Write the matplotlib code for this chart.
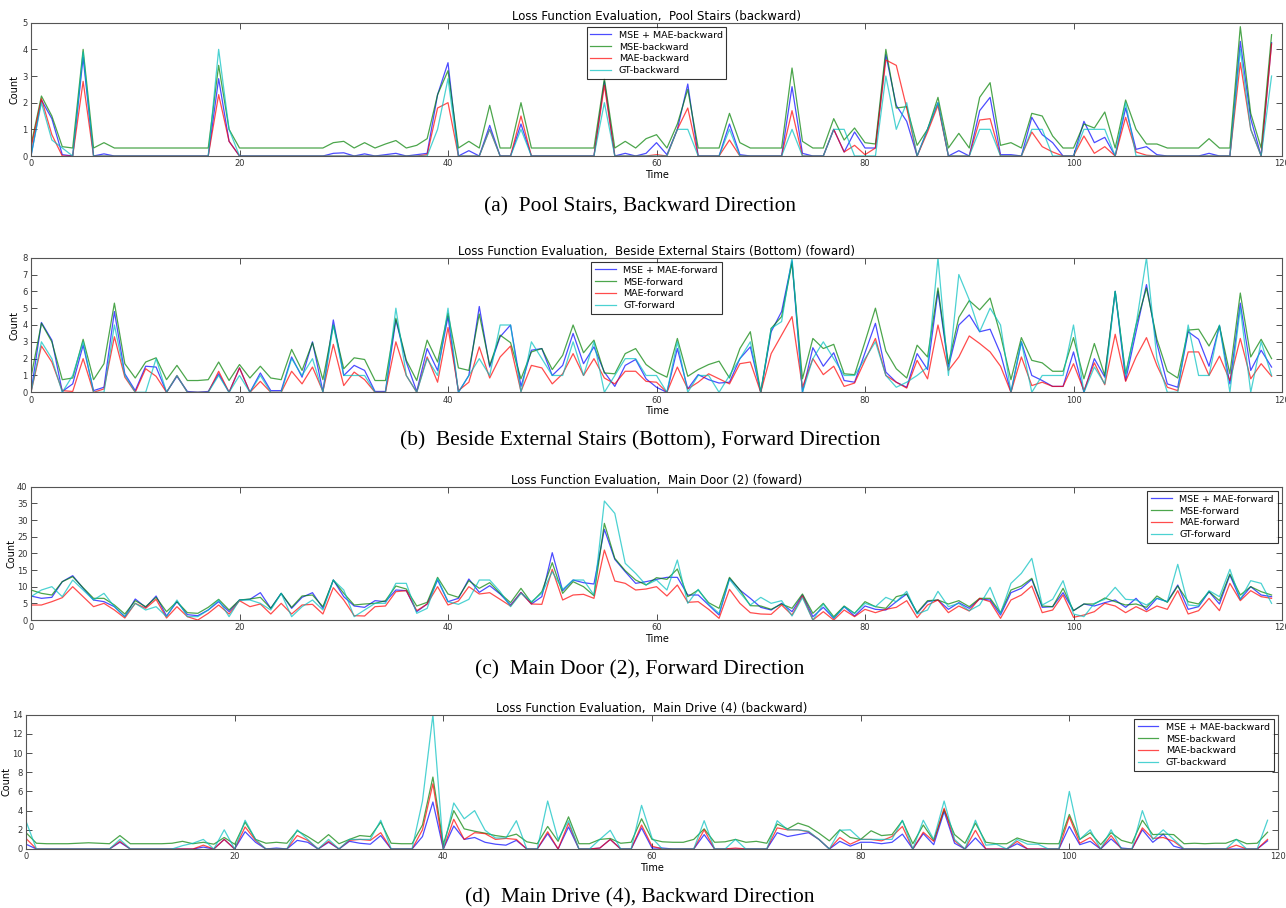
import matplotlib
matplotlib.use("Agg")
import matplotlib.pyplot as plt

# time axis shared by all four panels
time = list(range(120))

# === (a) Pool Stairs, backward ===
a_mse_mae = [0, 2.1, 1.4, 0.05, 0, 3.7, 0, 0.08, 0, 0,
             0, 0, 0, 0, 0, 0, 0, 0, 2.9, 0.55,
             0, 0, 0, 0, 0, 0, 0, 0, 0, 0.1,
             0.12, 0, 0.08, 0, 0.05, 0.1, 0, 0.05, 0.1, 2.3,
             3.5, 0, 0.2, 0, 1.15, 0, 0, 1.2, 0, 0,
             0, 0, 0, 0, 0, 2.8, 0, 0.1, 0, 0.1,
             0.5, 0.05, 1.0, 2.7, 0, 0, 0, 1.2, 0.05, 0,
             0, 0, 0, 2.6, 0.1, 0, 0, 1.0, 0.15, 0.9,
             0.3, 0.3, 3.8, 1.9, 1.3, 0, 1.0, 2.0, 0, 0.2,
             0, 1.7, 2.2, 0.05, 0.05, 0, 1.45, 0.8, 0.5, 0,
             0, 1.3, 0.5, 0.7, 0, 1.8, 0.25, 0.35, 0.05, 0,
             0, 0, 0, 0.1, 0, 0, 4.3, 1.4, 0, 4.25]
a_mse = [0.4, 2.25, 1.5, 0.35, 0.3, 4.0, 0.3, 0.5, 0.3, 0.3,
         0.3, 0.3, 0.3, 0.3, 0.3, 0.3, 0.3, 0.3, 3.4, 1.0,
         0.3, 0.3, 0.3, 0.3, 0.3, 0.3, 0.3, 0.3, 0.3, 0.5,
         0.55, 0.3, 0.5, 0.3, 0.45, 0.58, 0.3, 0.4, 0.65, 2.3,
         3.2, 0.3, 0.55, 0.3, 1.9, 0.3, 0.3, 2.0, 0.3, 0.3,
         0.3, 0.3, 0.3, 0.3, 0.3, 2.9, 0.3, 0.55, 0.3, 0.65,
         0.8, 0.3, 1.2, 2.5, 0.3, 0.3, 0.3, 1.6, 0.5, 0.3,
         0.3, 0.3, 0.3, 3.3, 0.55, 0.3, 0.3, 1.4, 0.6, 1.05,
         0.5, 0.45, 4.0, 1.8, 1.85, 0.4, 1.0, 2.2, 0.3, 0.85,
         0.3, 2.2, 2.75, 0.4, 0.5, 0.3, 1.6, 1.5, 0.75, 0.3,
         0.3, 1.2, 1.05, 1.65, 0.3, 2.1, 1.0, 0.45, 0.45, 0.3,
         0.3, 0.3, 0.3, 0.65, 0.3, 0.3, 4.85, 1.6, 0.3, 4.55]
a_mae = [0.3, 2.15, 0.8, 0, 0, 2.8, 0, 0, 0, 0,
         0, 0, 0, 0, 0, 0, 0, 0, 2.3, 0.55,
         0, 0, 0, 0, 0, 0, 0, 0, 0, 0,
         0, 0, 0, 0, 0, 0, 0, 0, 0.05, 1.8,
         2.0, 0, 0, 0, 1.0, 0, 0, 1.5, 0, 0,
         0, 0, 0, 0, 0, 2.65, 0, 0, 0, 0,
         0.05, 0, 1.0, 1.8, 0, 0, 0, 0.6, 0, 0,
         0, 0, 0, 1.7, 0, 0, 0, 1.0, 0.15, 0.4,
         0.05, 0.3, 3.6, 3.4, 1.8, 0, 0.9, 1.9, 0, 0,
         0, 1.35, 1.4, 0, 0, 0, 0.9, 0.35, 0.15, 0,
         0, 0.75, 0.1, 0.35, 0, 1.45, 0.15, 0.03, 0, 0,
         0, 0, 0, 0, 0, 0, 3.5, 1.0, 0, 4.2]
a_gt = [0, 2.0, 0.6, 0.3, 0, 3.9, 0, 0, 0, 0,
        0, 0, 0, 0, 0, 0, 0, 0, 4.0, 1.0,
        0, 0, 0, 0, 0, 0, 0, 0, 0, 0,
        0, 0, 0, 0, 0, 0, 0, 0, 0, 1.0,
        2.9, 0, 0, 0, 1.0, 0, 0, 1.0, 0, 0,
        0, 0, 0, 0, 0, 2.0, 0, 0, 0, 0,
        0, 0, 1.0, 1.0, 0, 0, 0, 1.0, 0, 0,
        0, 0, 0, 1.0, 0, 0, 0, 1.0, 1.0, 0,
        0, 0, 3.0, 1.0, 2.0, 0, 1.0, 2.0, 0, 0,
        0, 1.0, 1.0, 0, 0, 0, 1.0, 1.0, 0, 0,
        0, 1.0, 1.0, 1.0, 0, 2.0, 0, 0, 0, 0,
        0, 0, 0, 0, 0, 0, 4.0, 1.0, 0, 3.0]

# === (b) Beside External Stairs (Bottom), forward ===
b_mse_mae = [0, 4.15, 3.1, 0.05, 0.5, 2.8, 0.1, 0.3, 4.8, 1.1,
             0.1, 1.55, 1.5, 0, 0.95, 0.05, 0, 0.05, 1.1, 0,
             1.45, 0, 1.15, 0.1, 0.1, 2.1, 0.9, 3.0, 0.05, 4.3,
             1.0, 1.6, 1.3, 0.05, 0.05, 4.3, 1.8, 0.05, 2.6, 1.3,
             4.5, 0, 1.0, 5.1, 1.5, 3.3, 4.0, 0.35, 2.5, 2.6,
             1.0, 1.6, 3.5, 1.7, 2.7, 1.2, 0.35, 1.6, 1.95, 0.8,
             0.3, 0, 2.6, 0.2, 1.05, 0.75, 0.55, 0.6, 2.0, 2.7,
             0, 3.6, 4.8, 7.8, 0, 2.65, 1.55, 2.35, 0.7, 0.6,
             2.35, 4.1, 1.2, 0.6, 0.3, 2.3, 1.35, 6.0, 1.5, 4.0,
             4.6, 3.6, 3.75, 2.3, 0, 3.0, 1.0, 0.7, 0.35, 0.35,
             2.4, 0, 2.0, 0.9, 6.0, 0.7, 3.6, 6.4, 2.9, 0.5,
             0.3, 3.6, 3.15, 1.55, 3.95, 0.5, 5.3, 1.3, 2.5, 1.5]
b_mse = [0.9, 4.1, 3.0, 0.75, 0.85, 3.15, 0.75, 1.7, 5.3, 1.7,
         0.85, 1.8, 2.05, 0.75, 1.6, 0.7, 0.7, 0.75, 1.8, 0.7,
         1.65, 0.85, 1.55, 0.85, 0.75, 2.55, 1.3, 2.95, 0.75, 4.0,
         1.4, 2.05, 1.95, 0.7, 0.7, 4.4, 1.9, 0.7, 3.1, 1.8,
         4.7, 1.45, 1.3, 4.65, 1.6, 3.4, 2.95, 0.8, 2.4, 2.6,
         1.35, 2.2, 4.0, 2.35, 3.1, 1.15, 1.1, 2.3, 2.6, 1.65,
         1.2, 0.9, 3.2, 0.95, 1.35, 1.65, 1.85, 0.85, 2.6, 3.6,
         0.0, 3.8, 4.5, 7.7, 0.8, 3.2, 2.6, 2.85, 1.1, 1.05,
         3.0, 5.0, 2.45, 1.4, 0.85, 2.8, 2.1, 6.2, 1.7, 4.45,
         5.45, 4.9, 5.6, 3.4, 0.75, 3.25, 1.9, 1.75, 1.25, 1.25,
         3.25, 0.8, 2.9, 1.0, 6.0, 1.1, 4.0, 6.2, 3.15, 1.25,
         0.85, 3.7, 3.75, 2.75, 3.95, 1.1, 5.9, 2.1, 3.15, 2.0]
b_mae = [0, 2.75, 1.8, 0.1, 0.05, 2.0, 0, 0.2, 3.3, 0.9,
         0, 1.4, 0.95, 0, 1.0, 0, 0, 0, 1.25, 0,
         1.45, 0, 0.65, 0, 0, 1.25, 0.5, 1.5, 0.05, 2.85,
         0.4, 1.2, 0.75, 0, 0, 3.0, 1.0, 0, 2.1, 0.6,
         3.85, 0.1, 0.6, 2.7, 0.85, 2.1, 2.75, 0.05, 1.6, 1.45,
         0.5, 1.1, 2.3, 1.0, 2.0, 0.85, 0.5, 1.25, 1.25, 0.65,
         0.6, 0, 1.5, 0.2, 0.6, 1.1, 0.8, 0.5, 1.7, 1.8,
         0, 2.3, 3.4, 4.5, 0.3, 2.0, 1.05, 1.55, 0.35, 0.55,
         1.9, 3.2, 1.0, 0.6, 0.25, 1.9, 0.8, 4.0, 1.3, 2.1,
         3.35, 2.9, 2.4, 1.55, 0, 2.1, 0.4, 0.6, 0.35, 0.35,
         1.7, 0.1, 1.75, 0.45, 3.45, 0.65, 2.1, 3.25, 1.6, 0.3,
         0.1, 2.4, 2.4, 1.0, 2.15, 0.7, 3.2, 0.8, 1.7, 0.95]
b_gt = [0, 3.0, 2.0, 0, 1.0, 3.0, 0, 0, 4.0, 1.0,
        0, 0, 2.0, 0, 1.0, 0, 0, 0, 1.0, 0,
        1.0, 0, 1.0, 0, 0, 2.0, 1.0, 2.0, 0, 4.0,
        1.0, 1.0, 1.0, 0, 0, 5.0, 1.0, 0, 2.0, 1.0,
        5.0, 0, 1.0, 2.0, 1.0, 4.0, 4.0, 0, 3.0, 2.0,
        1.0, 1.0, 3.0, 1.0, 3.0, 0, 1.0, 2.0, 2.0, 1.0,
        1.0, 0, 3.0, 0, 1.0, 1.0, 0, 1.0, 2.0, 3.0,
        0, 3.8, 4.2, 8.0, 0, 2.0, 3.0, 2.0, 1.0, 1.0,
        2.0, 3.0, 1.0, 0.3, 0.6, 1.0, 1.5, 8.0, 1.0, 7.0,
        5.5, 3.6, 5.0, 4.0, 0, 3.0, 0, 1.0, 1.0, 1.0,
        4.0, 0, 1.5, 0.5, 6.0, 1.0, 4.0, 8.0, 2.0, 0,
        0, 4.0, 1.0, 1.0, 4.0, 0, 5.0, 0, 3.0, 1.0]

# === (c) Main Door (2), forward ===
c_mse_mae = [7.2, 6.5, 6.8, 11.5, 13.3, 9.5, 6.0, 5.5, 4.0, 1.0,
             6.3, 3.8, 7.2, 1.2, 5.5, 1.6, 1.3, 3.0, 5.5, 2.5,
             6.0, 6.2, 8.2, 3.5, 8.0, 3.5, 6.8, 8.2, 3.5, 12.0,
             7.0, 4.2, 3.8, 5.8, 5.5, 9.0, 8.8, 2.5, 4.8, 12.0,
             5.5, 6.5, 12.3, 8.3, 10.3, 7.8, 4.5, 8.3, 4.8, 7.0,
             20.2, 8.8, 12.0, 11.2, 10.8, 27.2, 18.2, 14.5, 11.0, 11.5,
             12.2, 12.8, 12.8, 7.5, 7.5, 4.5, 1.5, 12.5, 9.0, 6.5,
             3.8, 3.0, 5.0, 2.5, 7.5, 1.0, 3.8, 0.5, 4.0, 1.2,
             4.2, 3.2, 3.0, 5.5, 7.8, 2.0, 5.5, 6.0, 3.2, 5.2,
             3.5, 6.3, 6.0, 1.5, 8.2, 9.5, 12.2, 3.8, 4.0, 8.2,
             2.8, 4.8, 4.2, 5.2, 6.0, 3.8, 6.5, 3.0, 6.5, 5.5,
             10.5, 3.2, 4.0, 8.5, 4.8, 13.5, 6.2, 10.0, 7.5, 7.0]
c_mse = [9.0, 8.0, 7.5, 11.5, 13.0, 9.7, 6.5, 6.5, 4.5, 1.8,
         5.8, 4.0, 6.8, 2.5, 5.5, 2.2, 2.0, 3.8, 6.2, 3.0,
         6.0, 6.3, 6.8, 3.5, 8.0, 3.8, 7.2, 7.5, 4.0, 12.0,
         8.0, 4.5, 4.8, 5.0, 5.8, 10.2, 9.3, 4.2, 5.3, 12.8,
         7.8, 6.8, 11.8, 9.5, 11.2, 8.0, 5.2, 9.5, 5.2, 8.5,
         17.2, 8.0, 11.5, 10.0, 7.3, 29.0, 18.5, 14.8, 12.0, 10.5,
         12.7, 12.2, 15.3, 7.0, 9.0, 5.2, 3.5, 12.8, 9.0, 4.3,
         4.2, 3.2, 4.8, 3.5, 7.8, 2.0, 5.0, 1.0, 4.2, 2.0,
         5.5, 4.0, 3.5, 7.0, 7.8, 2.2, 5.8, 6.0, 4.8, 5.8,
         4.0, 6.5, 6.5, 2.2, 9.0, 10.2, 12.5, 4.2, 4.0, 9.5,
         2.8, 4.8, 4.8, 6.6, 5.5, 4.5, 4.8, 3.8, 7.2, 5.3,
         10.2, 5.5, 4.8, 8.5, 5.8, 13.8, 7.5, 10.0, 8.5, 7.5]
c_mae = [4.5, 4.5, 5.5, 6.7, 10.0, 7.0, 4.0, 5.0, 3.0, 0.6,
         5.0, 3.5, 6.2, 0.6, 4.0, 1.0, 0, 2.0, 4.5, 1.8,
         5.8, 4.0, 4.8, 1.8, 5.0, 1.8, 4.5, 4.7, 1.8, 9.7,
         6.0, 1.3, 1.2, 4.0, 4.2, 8.5, 8.8, 2.8, 4.8, 10.0,
         4.5, 5.7, 10.0, 7.8, 8.2, 6.2, 4.2, 8.2, 4.8, 4.7,
         15.2, 6.0, 7.5, 7.7, 6.5, 21.0, 11.7, 11.0, 9.0, 9.3,
         10.0, 7.2, 10.5, 5.3, 5.5, 3.2, 0.5, 9.2, 5.0, 2.2,
         1.8, 1.7, 4.5, 1.5, 7.2, 0, 2.5, 0, 3.0, 1.0,
         3.2, 2.2, 3.2, 3.8, 5.8, 0.7, 4.5, 6.0, 2.2, 4.2,
         2.7, 6.5, 5.5, 0.5, 6.0, 7.5, 10.2, 2.2, 3.0, 7.5,
         0.8, 1.5, 2.5, 5.0, 4.2, 2.2, 4.0, 2.5, 4.2, 3.2,
         8.8, 1.8, 2.8, 6.5, 2.8, 11.0, 5.8, 8.8, 7.0, 6.5]
c_gt = [7.0, 9.0, 10.0, 7.0, 12.0, 9.0, 6.0, 8.0, 4.0, 1.0,
        5.0, 3.0, 4.0, 1.0, 6.0, 1.0, 1.0, 3.0, 6.0, 1.0,
        6.0, 6.0, 5.0, 3.0, 8.0, 1.0, 4.0, 6.0, 3.0, 12.0,
        9.0, 1.0, 3.0, 5.0, 5.0, 11.0, 11.0, 2.0, 3.5, 12.5,
        5.5, 4.7, 6.2, 12.0, 12.0, 8.5, 4.0, 8.0, 5.5, 8.0,
        14.5, 9.2, 12.0, 12.0, 7.5, 35.7, 32.0, 17.0, 14.0, 10.5,
        12.0, 9.0, 18.0, 5.0, 9.2, 4.8, 2.0, 12.2, 8.2, 4.5,
        6.8, 5.0, 5.8, 1.2, 6.7, 0, 4.8, 0.5, 4.0, 2.0,
        5.0, 4.0, 6.8, 5.5, 8.6, 1.8, 3.0, 8.6, 4.0, 5.0,
        2.8, 4.5, 9.8, 2.0, 11.0, 14.0, 18.5, 4.5, 6.2, 11.8,
        1.8, 1.0, 5.0, 6.2, 9.8, 6.2, 6.0, 4.5, 6.5, 5.5,
        16.7, 4.5, 4.2, 8.8, 7.0, 15.2, 6.2, 11.8, 11.0, 5.0]

# === (d) Main Drive (4), backward ===
d_mse_mae = [0.5, 0, 0, 0, 0, 0, 0, 0, 0, 0.7,
             0, 0, 0, 0, 0, 0, 0, 0.2, 0, 1.0,
             0, 1.8, 0.7, 0, 0.1, 0, 0.9, 0.7, 0, 0.7,
             0, 0.8, 0.6, 0.5, 1.4, 0, 0, 0, 1.3, 4.9,
             0, 2.4, 1.0, 1.2, 0.7, 0.5, 0.4, 0.9, 0, 0,
             1.6, 0, 2.3, 0, 0, 0.1, 1.0, 0, 0, 2.2,
             0.1, 0.1, 0, 0, 0, 1.5, 0, 0, 0, 0,
             0, 0, 1.7, 1.3, 1.5, 1.7, 1.0, 0, 0.8, 0.3,
             0.7, 0.7, 0.55, 0.7, 1.55, 0, 1.6, 0.45, 3.9, 0.6,
             0, 1.15, 0, 0, 0, 0.55, 0, 0, 0, 0,
             2.35, 0.45, 0.8, 0, 1.05, 0.1, 0, 2.0, 0.7, 1.55,
             0.3, 0, 0, 0, 0, 0, 0, 0, 0, 0.85]
d_mse = [1.7, 0.6, 0.55, 0.55, 0.55, 0.6, 0.65, 0.6, 0.55, 1.4,
         0.55, 0.55, 0.55, 0.55, 0.6, 0.8, 0.55, 0.7, 0.5, 1.2,
         0.5, 2.8, 1.0, 0.6, 0.7, 0.6, 1.9, 1.3, 0.6, 1.5,
         0.55, 1.0, 1.4, 1.3, 2.8, 0.6, 0.55, 0.55, 2.5, 7.5,
         0.5, 4.0, 2.1, 1.85, 1.65, 1.4, 1.25, 1.55, 0.75, 0.55,
         2.35, 0.8, 3.35, 0.55, 0.55, 1.0, 1.1, 0.6, 0.7, 3.15,
         1.0, 0.75, 0.7, 0.7, 1.0, 2.1, 0.7, 0.75, 1.0, 0.7,
         0.8, 0.6, 2.6, 2.1, 2.7, 2.35, 1.65, 0.85, 2.0, 1.2,
         1.0, 1.9, 1.4, 1.5, 2.95, 0.55, 2.5, 0.9, 4.1, 1.5,
         0.6, 2.7, 0.7, 0.55, 0.55, 1.15, 0.8, 0.6, 0.55, 0.55,
         3.6, 1.0, 1.7, 0.45, 1.7, 0.9, 0.6, 3.0, 1.5, 1.55,
         1.5, 0.55, 0.6, 0.55, 0.6, 0.6, 1.0, 0.55, 0.6, 1.75]
d_mae = [1.1, 0, 0, 0, 0, 0, 0, 0, 0, 0.8,
         0, 0, 0, 0, 0, 0, 0, 0.4, 0, 1.0,
         0, 2.3, 0.9, 0, 0, 0, 1.4, 0.9, 0, 0.8,
         0, 0.9, 1.0, 0.9, 1.7, 0, 0, 0, 2.0, 6.8,
         0, 3.1, 1.0, 1.7, 1.6, 1.0, 1.1, 1.0, 0, 0,
         1.8, 0, 2.7, 0, 0, 0.1, 1.0, 0, 0, 2.5,
         0.3, 0, 0, 0, 0, 2.0, 0, 0, 0.1, 0,
         0, 0, 2.2, 2.0, 2.0, 1.8, 1.0, 0, 1.2, 0.5,
         1.0, 1.0, 0.85, 1.3, 2.35, 0, 1.75, 0.8, 4.25, 0.85,
         0, 1.95, 0, 0, 0, 0.8, 0, 0, 0, 0,
         3.35, 0.6, 1.2, 0, 1.4, 0, 0, 2.2, 1.1, 1.2,
         0.8, 0, 0, 0, 0, 0, 0.4, 0, 0, 1.0]
d_gt = [2.9, 0, 0, 0, 0, 0, 0, 0, 0, 1.0,
        0, 0, 0, 0, 0, 0.35, 0.6, 1.0, 0, 2.0,
        0, 3.0, 1.0, 0, 0, 0, 2.0, 1.0, 0, 1.0,
        0, 1.0, 1.0, 1.0, 3.0, 0, 0, 0, 5.0, 14.0,
        0, 4.8, 3.15, 4.0, 1.95, 1.15, 1.15, 2.95, 0, 0,
        5.0, 1.0, 2.95, 0, 0, 1.0, 1.95, 0, 0, 4.55,
        1.15, 0, 0, 0, 0, 2.95, 0, 0, 1.0, 0,
        0, 0, 2.95, 2.0, 2.0, 1.85, 1.0, 0, 1.95, 2.0,
        1.0, 1.0, 1.0, 1.0, 3.0, 0, 3.0, 1.0, 5.0, 1.0,
        0, 3.0, 0.4, 0.5, 0, 1.0, 0.5, 0.5, 0, 0,
        6.0, 1.0, 2.0, 0, 2.0, 0, 0, 4.0, 1.0, 2.0,
        1.0, 0, 0, 0, 0, 0, 1.0, 0, 0, 3.0]

titles = ["Loss Function Evaluation,  Pool Stairs (backward)",
          "Loss Function Evaluation,  Beside External Stairs (Bottom) (foward)",
          "Loss Function Evaluation,  Main Door (2) (foward)",
          "Loss Function Evaluation,  Main Drive (4) (backward)"]
captions = ["(a)  Pool Stairs, Backward Direction",
            "(b)  Beside External Stairs (Bottom), Forward Direction",
            "(c)  Main Door (2), Forward Direction",
            "(d)  Main Drive (4), Backward Direction"]
directions = ["backward", "forward", "forward", "backward"]
series_names = ["MSE + MAE", "MSE", "MAE", "GT"]
y_limits = [5, 8, 40, 14]
y_steps = [1, 1, 5, 2]
legend_locs = ["upper center", "upper center", "upper right", "upper right"]
panel_data = [[a_mse_mae, a_mse, a_mae, a_gt],
              [b_mse_mae, b_mse, b_mae, b_gt],
              [c_mse_mae, c_mse, c_mae, c_gt],
              [d_mse_mae, d_mse, d_mae, d_gt]]

colors = ['b', 'g', 'r', 'c']

W, H = 1286, 908
# axes boxes in pixels: left, right, top, bottom
boxes = [(31, 1282, 22.7, 156),
         (31, 1282, 257.7, 392.3),
         (31, 1282, 486.7, 620),
         (26, 1278, 714.7, 849)]
caption_y = [207, 441, 670, 898]
# x pixel of the right side of the rotated "Count" label
ylabel_px = [20, 20, 16.5, 11.5]

fig = plt.figure(figsize=(W / 100, H / 100), dpi=100, facecolor='white')

for i in range(4):
    l, r, t, b = boxes[i]
    ax = fig.add_axes([l / W, 1 - b / H, (r - l) / W, (b - t) / H])
    for j in range(4):
        ax.plot(time, panel_data[i][j], color=colors[j], alpha=0.7, linewidth=0.9,
                label=f"{series_names[j]}-{directions[i]}")
    ax.set_xlim(0, 120)
    ax.set_ylim(0, y_limits[i])
    ax.set_xticks(range(0, 121, 20))
    ax.set_yticks(range(0, y_limits[i] + 1, y_steps[i]))
    ax.tick_params(direction='in', top=True, right=True, labelsize=6, length=4,
                   width=0.6, pad=2.5, colors='#333333')
    for sp in ax.spines.values():
        sp.set_linewidth(0.8)
        sp.set_color('#555555')
    ax.set_title(titles[i], fontsize=8.5, pad=2)
    ax.set_xlabel("Time", fontsize=7, labelpad=1)
    ax.set_ylabel("Count", fontsize=7)
    ax.yaxis.set_label_coords((ylabel_px[i] - l) / (r - l), 0.5)
    leg = ax.legend(loc=legend_locs[i], fontsize=6.8, fancybox=False,
                    labelspacing=0.3, handlelength=2.2, borderaxespad=0.45,
                    borderpad=0.4)
    leg.get_frame().set_edgecolor('black')
    leg.get_frame().set_linewidth(0.8)
    fig.text(640 / W, 1 - caption_y[i] / H, captions[i], ha='center', va='center',
             fontsize=15.4, family='Liberation Serif')

fig.savefig("out.png", dpi=100, facecolor='white')
